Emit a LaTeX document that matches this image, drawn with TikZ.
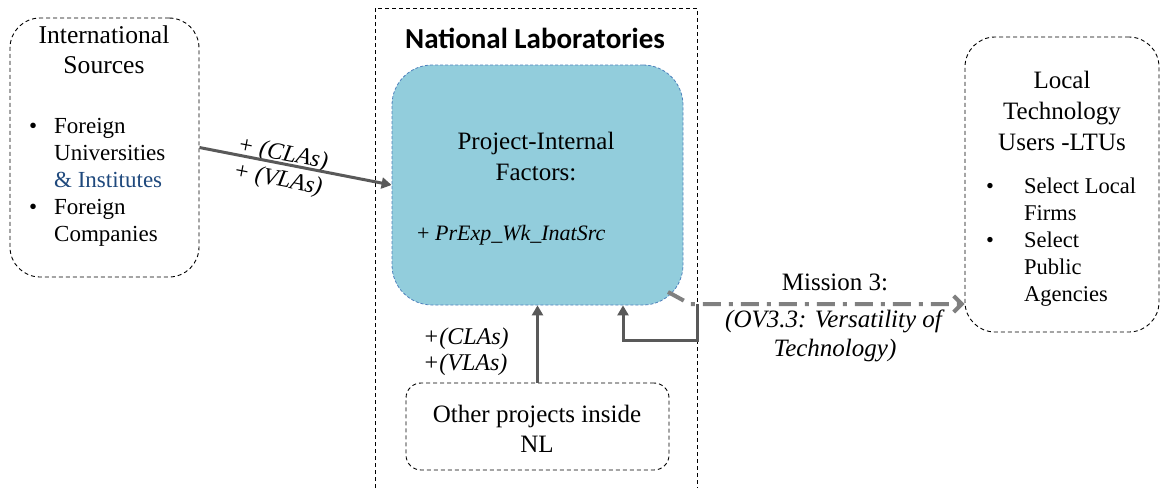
\documentclass[tikz,border=0pt]{standalone}
\usepackage{fontspec}
\usepackage{array}
\usepackage{tikz}
\usetikzlibrary{arrows.meta}
\setmainfont{Liberation Serif}
\newfontfamily\hdfont{Carlito}

\definecolor{arrgray}{HTML}{595959}
\definecolor{ddgray}{HTML}{808080}
\definecolor{pifblue}{HTML}{92CDDC}
\definecolor{pifedge}{HTML}{4F81BD}
\definecolor{instblue}{HTML}{1F497D}

\begin{document}
\begin{tikzpicture}[x=1pt, y=-1pt,
  box/.style={draw, line width=0.9pt, dash pattern=on 4pt off 3pt, rounded corners=30pt, inner sep=0pt},
  txt/.style={inner sep=0pt, font=\fontsize{25}{30}\selectfont},
  lst/.style={inner sep=0pt, anchor=north west, font=\fontsize{23}{27}\selectfont},
  arr/.style={draw=arrgray, line width=3pt, -{Triangle[length=10pt,width=11pt]}},
  dda/.style={draw=ddgray, line width=4pt, dash pattern=on 18pt off 8pt on 4pt off 8pt, -{Straight Barb[length=8pt,width=16pt]}}]

\useasboundingbox[fill=white] (0,0) rectangle (1160,488);

% frame of the national laboratories (open at the bottom)
\draw[line width=0.9pt, dash pattern=on 4pt off 3pt] (375,488) |- (697,8) -- (697,488);
\node[inner sep=0pt, anchor=base, font=\hdfont\bfseries\fontsize{29}{34}\selectfont] (nlh) at (535,48) {National Laboratories};

% boxes
\node[box, minimum width=189pt, minimum height=259pt] (is) at (104.5,147.5) {};
\node[box, minimum width=194pt, minimum height=295pt] (ltu) at (1062,184.5) {};
\node[box, rounded corners=15pt, minimum width=263pt, minimum height=87pt] (op) at (537.5,426.5) {};
\node[fill=pifblue, draw=pifedge, line width=0.8pt, dash pattern=on 3pt off 2pt, rounded corners=40pt,
      inner sep=0pt, minimum width=291pt, minimum height=240pt] (pif) at (537.5,185) {};

% texts
\node[txt, anchor=north, font=\fontsize{25.6}{30}\selectfont] (ish) at (104,22)
  {\begin{tabular}{@{}c@{}}International\\Sources\end{tabular}};
\node[lst] (isl) at (29,114)
  {\begin{tabular}{@{}p{25pt}@{}l@{}}\textbullet & Foreign\\ & Universities\\ & {\color{instblue}\& Institutes}\\ \textbullet & Foreign\\ & Companies\end{tabular}};

\node[txt, anchor=north, font=\fontsize{25}{31}\selectfont] (ltuh) at (1062,66.3)
  {\begin{tabular}{@{}c@{}}Local\\Technology\\Users -LTUs\end{tabular}};
\node[lst, font=\fontsize{22.5}{27}\selectfont] (ltul) at (986,174.1)
  {\begin{tabular}{@{}p{38pt}@{}l@{}}\textbullet & Select Local\\ & Firms\\ \textbullet & Select\\ & Public\\ & Agencies\end{tabular}};

\node[txt, anchor=north, font=\fontsize{25}{31}\selectfont] (pift) at (536,127.3)
  {\begin{tabular}{@{}c@{}}Project-Internal\\Factors:\end{tabular}};
\node[txt, anchor=base west, font=\fontsize{22}{26}\selectfont] (pre) at (417,240) {+ \textit{PrExp\_Wk\_InatSrc}};

\node[txt, anchor=north] (opt) at (537,401)
  {\begin{tabular}{@{}c@{}}Other projects inside\\NL\end{tabular}};

\node[txt, anchor=north, font=\fontsize{25}{29}\selectfont] (m3t) at (835,269.7)
  {\begin{tabular}{@{}c@{}}Mission 3:\\[8pt]\textit{(OV3.3: Versatility of}\\\textit{Technology)}\end{tabular}};

\node[txt, rotate=-10.9, font=\fontsize{24}{26}\selectfont] (lab1) at (280,168)
  {\begin{tabular}{@{}c@{}}\textit{+ (CLAs)}\\\textit{+ (VLAs)}\end{tabular}};
\node[txt, anchor=north west, font=\fontsize{24}{26}\selectfont] (lab2) at (423,326)
  {\begin{tabular}{@{}l@{}}\textit{+(CLAs)}\\\textit{+(VLAs)}\end{tabular}};

% connectors
\draw[arr] (is.east) -- (pif.west);
\draw[arr] (op.north) -- (pif.south);

\coordinate (m3s) at (668,292);
\coordinate (m3e) at (690,304);
\draw[dda] (m3s) -- (m3e) -- (ltu.west |- m3e);

\coordinate (fb) at (697,304);
\coordinate (lp) at (623,340);
\draw[arr] (fb) |- (lp) -- (lp |- pif.south);
\end{tikzpicture}
\end{document}
